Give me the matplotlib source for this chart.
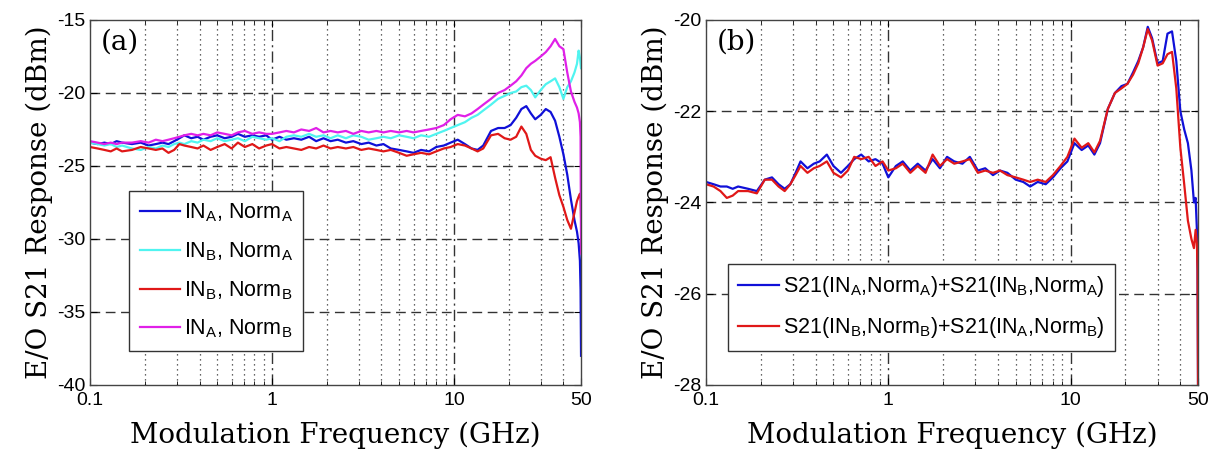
import matplotlib
matplotlib.use("Agg")
import matplotlib.pyplot as plt
from matplotlib.ticker import FixedLocator, NullFormatter

plt.rcParams["font.family"] = ["Liberation Sans", "DejaVu Sans"]
plt.rcParams["mathtext.fontset"] = "custom"
plt.rcParams["mathtext.rm"] = "Liberation Sans"
plt.rcParams["mathtext.it"] = "Liberation Sans:italic"
plt.rcParams["mathtext.bf"] = "Liberation Sans:bold"
plt.rcParams["mathtext.default"] = "rm"

# frequency points (GHz)
freq = [0.10, 0.11, 0.12, 0.13, 0.14, 0.15,
        0.17, 0.19, 0.21, 0.23, 0.25,
        0.27, 0.29, 0.31, 0.33, 0.36,
        0.39, 0.42, 0.46, 0.50, 0.55,
        0.60, 0.65, 0.71, 0.78, 0.85,
        0.93, 1.00, 1.10, 1.20, 1.32,
        1.45, 1.60, 1.75, 1.92, 2.10,
        2.30, 2.55, 2.80, 3.10, 3.40,
        3.75, 4.10, 4.50, 5.00, 5.50,
        6.00, 6.60, 7.30, 8.00, 8.80,
        9.60, 10.5, 11.5, 12.5, 13.5,
        14.5, 16.0, 17.5, 19.0, 20.5,
        22.0, 23.5, 25.0, 26.5, 28.0,
        30.0, 32.0, 34.0, 36.0, 38.0,
        40.0, 42.0, 44.0, 46.0, 47.5,
        48.5, 49.3, 49.7, 50.0]

# (a) E/O S21 (dBm)
inA_normA = [-23.4, -23.5, -23.4, -23.5, -23.3, -23.4,
             -23.5, -23.4, -23.6, -23.5, -23.4,
             -23.5, -23.3, -23.1, -22.9, -23.1,
             -23.0, -23.2, -23.0, -22.9, -23.1,
             -23.0, -22.8, -23.0, -22.9, -23.0,
             -22.9, -23.2, -23.0, -23.2, -23.1,
             -23.2, -23.0, -23.3, -23.1, -23.3,
             -23.2, -23.4, -23.3, -23.5, -23.4,
             -23.6, -23.5, -23.8, -23.9, -24.0,
             -24.1, -23.9, -24.0, -23.7, -23.6,
             -23.4, -23.2, -23.5, -23.8, -23.9,
             -23.6, -22.6, -22.4, -22.4, -22.2,
             -21.7, -21.1, -20.9, -21.4, -21.8,
             -21.5, -21.1, -21.3, -21.9, -23.0,
             -24.2, -25.6, -27.3, -28.7, -29.5,
             -30.3, -31.5, -33.5, -38.0]
inB_normA = [-23.4, -23.5, -23.6, -23.5, -23.7, -23.6,
             -23.8, -23.9, -23.7, -23.8, -23.6,
             -23.7, -23.5, -23.4, -23.5, -23.3,
             -23.4, -23.2, -23.3, -23.1, -23.3,
             -23.2, -23.1, -23.3, -23.0, -23.1,
             -23.2, -23.1, -23.3, -23.0, -22.9,
             -23.0, -22.8, -23.0, -22.9, -23.1,
             -22.9, -23.1, -22.9, -23.0, -23.2,
             -23.1, -23.0, -23.1, -22.9, -23.0,
             -23.1, -22.9, -23.0, -22.8, -22.6,
             -22.4, -22.2, -22.0, -21.7, -21.5,
             -21.2, -20.8, -20.4, -20.2, -20.0,
             -19.9, -19.6, -19.5, -19.8, -20.3,
             -19.8, -19.4, -19.2, -19.0, -19.6,
             -20.4, -19.6, -19.2, -18.6, -18.0,
             -17.1, -17.6, -18.0, -18.3]
inB_normB = [-23.7, -23.8, -23.9, -24.0, -23.8, -24.0,
             -23.9, -23.7, -23.8, -23.9, -23.8,
             -24.1, -23.9, -23.5, -23.6, -23.7,
             -23.8, -23.6, -23.9, -23.7, -23.5,
             -23.8, -23.4, -23.7, -23.5, -23.8,
             -23.6, -23.5, -23.8, -23.7, -23.8,
             -23.9, -23.7, -23.8, -23.6, -23.8,
             -23.7, -23.8, -23.7, -23.9, -23.8,
             -23.9, -24.0, -23.9, -24.1, -24.3,
             -24.2, -24.1, -24.2, -24.0, -23.8,
             -23.7, -23.5, -23.6, -23.8, -24.0,
             -23.8, -22.9, -22.8, -23.1, -23.2,
             -23.0, -22.3, -22.8, -23.9, -24.3,
             -24.5, -24.6, -24.4, -25.8, -27.0,
             -27.8, -28.7, -29.3, -28.2, -27.4,
             -27.1, -26.9, -27.2, -28.5]
inA_normB = [-23.3, -23.4, -23.5, -23.4, -23.5, -23.4,
             -23.4, -23.3, -23.4, -23.2, -23.3,
             -23.2, -23.1, -23.0, -22.9, -22.8,
             -22.9, -22.8, -22.9, -22.7, -22.8,
             -22.9, -22.7, -22.6, -22.8, -22.7,
             -22.8, -22.8, -22.7, -22.6, -22.7,
             -22.5, -22.6, -22.4, -22.7, -22.6,
             -22.7, -22.6, -22.8, -22.6, -22.7,
             -22.6, -22.7, -22.6, -22.7, -22.6,
             -22.7, -22.6, -22.5, -22.4, -22.2,
             -21.8, -21.5, -21.6, -21.4, -21.1,
             -20.8, -20.4, -20.0, -19.8, -19.5,
             -19.2, -18.8, -18.3, -18.0, -17.8,
             -17.5, -17.2, -16.8, -16.3, -16.8,
             -17.0, -18.6, -19.9, -20.6, -21.0,
             -21.4, -22.0, -23.0, -31.0]

# (b) summed responses (dBm)
sum_normA = [-23.55, -23.6, -23.65, -23.65, -23.7, -23.65,
             -23.7, -23.75, -23.5, -23.45, -23.6,
             -23.7, -23.6, -23.35, -23.1, -23.25,
             -23.15, -23.1, -22.95, -23.2, -23.35,
             -23.2, -23.05, -22.95, -23.1, -23.05,
             -23.15, -23.45, -23.2, -23.1, -23.3,
             -23.15, -23.3, -23.05, -23.25, -23.0,
             -23.1, -23.15, -23.0, -23.3, -23.25,
             -23.4, -23.3, -23.35, -23.5, -23.55,
             -23.65, -23.55, -23.6, -23.45, -23.25,
             -23.1, -22.7, -22.85, -22.75, -22.95,
             -22.7, -21.95, -21.6, -21.45, -21.4,
             -21.15, -20.9, -20.6, -20.15, -20.4,
             -20.95, -20.9, -20.3, -20.25, -20.9,
             -22.0, -22.4, -22.7, -23.3, -24.0,
             -23.9, -24.6, -25.5, -28.0]
sum_normB = [-23.6, -23.65, -23.75, -23.9, -23.85, -23.75,
             -23.75, -23.8, -23.5, -23.5, -23.65,
             -23.75, -23.6, -23.4, -23.2, -23.35,
             -23.25, -23.2, -23.1, -23.35, -23.45,
             -23.3, -23.0, -23.05, -23.0, -23.2,
             -23.1, -23.3, -23.25, -23.15, -23.35,
             -23.2, -23.35, -22.95, -23.2, -23.05,
             -23.15, -23.1, -23.05, -23.35, -23.3,
             -23.35, -23.3, -23.4, -23.45, -23.5,
             -23.55, -23.5, -23.55, -23.4, -23.2,
             -23.0, -22.6, -22.8, -22.7, -22.9,
             -22.65, -21.95, -21.6, -21.5, -21.4,
             -21.2, -20.95, -20.6, -20.2, -20.45,
             -21.0, -20.95, -20.75, -20.7, -21.5,
             -22.8, -23.6, -24.4, -24.8, -25.0,
             -24.6, -24.9, -25.5, -28.0]

labels_a = [r"IN$_{A}$, Norm$_{A}$", r"IN$_{B}$, Norm$_{A}$",
            r"IN$_{B}$, Norm$_{B}$", r"IN$_{A}$, Norm$_{B}$"]
labels_b = [r"S21(IN$_{A}$,Norm$_{A}$)+S21(IN$_{B}$,Norm$_{A}$)",
            r"S21(IN$_{B}$,Norm$_{B}$)+S21(IN$_{A}$,Norm$_{B}$)"]

xticks = [0.1, 1, 10, 50]
xticklabels = ["0.1", "1", "10", "50"]
minor_x = [0.2, 0.3, 0.4, 0.5, 0.6, 0.7, 0.8, 0.9,
           2, 3, 4, 5, 6, 7, 8, 9, 20, 30, 40]

serif = ["DejaVu Serif"]
grid_col = "#333333"

fig = plt.figure(figsize=(12.10, 4.54), dpi=100)
ax_a = fig.add_axes([0.0744, 0.152, 0.4058, 0.804])
ax_b = fig.add_axes([0.5835, 0.152, 0.4066, 0.804])


def style_axes(ax, yticks):
    ax.set_xscale("log")
    ax.set_xlim(0.1, 50)
    ax.set_ylim(yticks[0], yticks[-1])
    ax.xaxis.set_major_locator(FixedLocator(xticks))
    ax.xaxis.set_minor_locator(FixedLocator(minor_x))
    ax.xaxis.set_minor_formatter(NullFormatter())
    ax.set_xticklabels(xticklabels)
    ax.set_yticks(yticks)
    ax.set_yticklabels([str(v) for v in yticks])
    ax.tick_params(which="both", direction="in", top=True, right=True,
                   labelsize=14, colors="black")
    ax.tick_params(which="major", length=5)
    ax.tick_params(axis="x", which="major", pad=5)
    ax.tick_params(axis="y", which="major", pad=3)
    ax.tick_params(which="minor", length=3)
    # MATLAB style grid
    for v in yticks[1:-1]:
        ax.axhline(v, color=grid_col, lw=1.0, ls=(0, (7, 4)), zorder=0)
    for v in [1, 10]:
        ax.axvline(v, color=grid_col, lw=1.0, ls=(0, (8, 3, 1.5, 3)), zorder=0)
    for v in minor_x:
        ax.axvline(v, color=grid_col, lw=0.9, ls=(0, (1, 3)), zorder=0)
    for s in ax.spines.values():
        s.set_color("#444444")
        s.set_linewidth(1.0)
    ax.set_xlabel("Modulation Frequency (GHz)", family=serif, fontsize=20,
                  labelpad=9)
    ax.set_ylabel("E/O S21 Response (dBm)", family=serif, fontsize=20,
                  labelpad=3)


# (a)
ax_a.plot(freq, inA_normA, color="#1010d8", lw=1.6, label=labels_a[0])
ax_a.plot(freq, inB_normA, color="#50f4f0", lw=1.6, label=labels_a[1])
ax_a.plot(freq, inB_normB, color="#e01818", lw=1.6, label=labels_a[2])
ax_a.plot(freq, inA_normB, color="#e020e8", lw=1.6, label=labels_a[3])
style_axes(ax_a, [-40, -35, -30, -25, -20, -15])
ax_a.text(0.022, 0.975, "(a)", transform=ax_a.transAxes, family=serif,
          fontsize=20, va="top", ha="left")
leg_a = ax_a.legend(loc="lower left", bbox_to_anchor=(0.057, 0.063),
                    fontsize=15.5, handlelength=1.9, handletextpad=0.15,
                    labelspacing=0.75, borderpad=0.5, frameon=True,
                    fancybox=False, framealpha=1)
leg_a.get_frame().set_edgecolor("#333333")
leg_a.get_frame().set_linewidth(1.0)

# (b)
ax_b.plot(freq, sum_normA, color="#1010d8", lw=1.6, label=labels_b[0])
ax_b.plot(freq, sum_normB, color="#e01818", lw=1.6, label=labels_b[1])
style_axes(ax_b, [-28, -26, -24, -22, -20])
ax_b.text(0.022, 0.975, "(b)", transform=ax_b.transAxes, family=serif,
          fontsize=20, va="top", ha="left")
leg_b = ax_b.legend(loc="lower left", bbox_to_anchor=(0.022, 0.063),
                    fontsize=15.5, handlelength=1.9, handletextpad=0.15,
                    labelspacing=0.75, borderpad=0.5, frameon=True,
                    fancybox=False, framealpha=1)
leg_b.get_frame().set_edgecolor("#333333")
leg_b.get_frame().set_linewidth(1.0)

fig.savefig("out.png", dpi=100)
